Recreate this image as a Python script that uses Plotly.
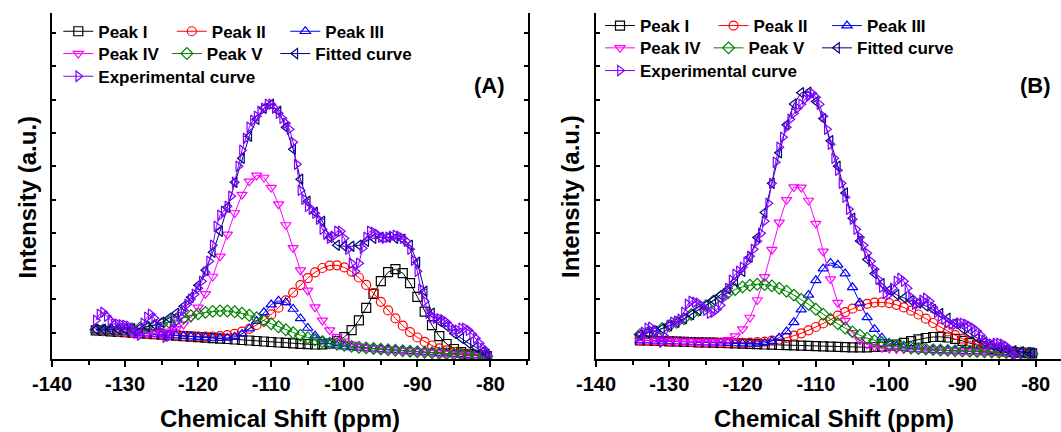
import plotly.graph_objects as go

# ---------------- data ----------------
series_names = ["Peak I", "Peak II", "Peak III", "Peak IV", "Peak V",
                "Fitted curve", "Experimental curve"]

x_major_ticks = [-140, -130, -120, -110, -100, -90, -80]
x_tick_labels = ["-140", "-130", "-120", "-110", "-100", "-90", "-80"]
x_minor_ticks = [-135, -125, -115, -105, -95, -85, -75]

# chemical shift grid of the fitted components (ppm)
shift_fit = [-134, -133, -132, -131, -130, -129, -128, -127, -126, -125,
             -124, -123, -122, -121, -120, -119, -118, -117, -116, -115,
             -114, -113, -112, -111, -110, -109, -108, -107, -106, -105,
             -104, -103, -102, -101, -100, -99, -98, -97, -96, -95,
             -94, -93, -92, -91, -90, -89, -88, -87, -86, -85,
             -84, -83, -82, -81, -80.5]

shift_exp_a = [-134.0, -133.5, -133.0, -132.5, -132.0, -131.5, -131.0, -130.5, -130.0, -129.5,
               -129.0, -128.5, -128.0, -127.5, -127.0, -126.5, -126.0, -125.5, -125.0, -124.5,
               -124.0, -123.5, -123.0, -122.5, -122.0, -121.5, -121.0, -120.5, -120.0, -119.5,
               -119.0, -118.5, -118.0, -117.5, -117.0, -116.5, -116.0, -115.5, -115.0, -114.5,
               -114.0, -113.5, -113.0, -112.5, -112.0, -111.5, -111.0, -110.5, -110.0, -109.5,
               -109.0, -108.5, -108.0, -107.5, -107.0, -106.5, -106.0, -105.5, -105.0, -104.5,
               -104.0, -103.5, -103.0, -102.5, -102.0, -101.5, -101.0, -100.5, -100.0, -99.5,
               -99.0, -98.5, -98.0, -97.5, -97.0, -96.5, -96.0, -95.5, -95.0, -94.5,
               -94.0, -93.5, -93.0, -92.5, -92.0, -91.5, -91.0, -90.5, -90.0, -89.5,
               -89.0, -88.5, -88.0, -87.5, -87.0, -86.5, -86.0, -85.5, -85.0, -84.5,
               -84.0, -83.5, -83.0, -82.5, -82.0, -81.5, -81.0, -80.5]

shift_exp_b = [-134.0, -133.5, -133.0, -132.5, -132.0, -131.5, -131.0, -130.5, -130.0, -129.5,
               -129.0, -128.5, -128.0, -127.5, -127.0, -126.5, -126.0, -125.5, -125.0, -124.5,
               -124.0, -123.5, -123.0, -122.5, -122.0, -121.5, -121.0, -120.5, -120.0, -119.5,
               -119.0, -118.5, -118.0, -117.5, -117.0, -116.5, -116.0, -115.5, -115.0, -114.5,
               -114.0, -113.5, -113.0, -112.5, -112.0, -111.5, -111.0, -110.5, -110.0, -109.5,
               -109.0, -108.5, -108.0, -107.5, -107.0, -106.5, -106.0, -105.5, -105.0, -104.5,
               -104.0, -103.5, -103.0, -102.5, -102.0, -101.5, -101.0, -100.5, -100.0, -99.5,
               -99.0, -98.5, -98.0, -97.5, -97.0, -96.5, -96.0, -95.5, -95.0, -94.5,
               -94.0, -93.5, -93.0, -92.5, -92.0, -91.5, -91.0, -90.5, -90.0, -89.5,
               -89.0, -88.5, -88.0, -87.5, -87.0, -86.5, -86.0, -85.5, -85.0, -84.5,
               -84.0, -83.5, -83.0, -82.5]

# ---- panel (A) intensities (a.u.) ----
a_peak1 = [29.0, 28.5, 28.0, 27.5, 27.1, 26.6, 26.1, 25.6, 25.1, 24.6,
           24.1, 23.7, 23.2, 22.7, 22.2, 21.7, 21.2, 20.7, 20.3, 19.8,
           19.3, 18.8, 18.3, 17.8, 17.3, 16.8, 16.4, 15.9, 15.4, 15.1,
           14.8, 15.0, 15.8, 18.1, 22.2, 29.1, 39.0, 51.5, 65.4, 78.1,
           87.1, 90.1, 86.2, 76.2, 62.5, 47.6, 34.1, 23.2, 15.3, 10.3,
           7.1, 5.3, 4.1, 3.4, 3.1]
a_peak2 = [29.0, 28.5, 28.0, 27.5, 27.1, 26.6, 26.1, 25.6, 25.1, 24.6,
           24.1, 23.8, 23.4, 23.1, 22.8, 22.7, 22.8, 23.2, 24.2, 25.5,
           27.6, 30.5, 34.3, 39.1, 44.9, 51.6, 59.0, 66.7, 74.2, 81.2,
           87.0, 91.3, 93.7, 94.0, 91.9, 87.7, 81.8, 74.4, 66.1, 57.5,
           48.9, 40.9, 33.6, 27.2, 21.8, 17.4, 13.8, 11.0, 8.9, 7.3,
           6.0, 5.0, 4.2, 3.5, 3.2]
a_peak3 = [29.0, 28.5, 28.0, 27.5, 27.1, 26.6, 26.1, 25.6, 25.1, 24.6,
           24.1, 23.7, 23.2, 22.7, 22.2, 21.7, 21.3, 21.1, 21.4, 22.6,
           25.4, 30.6, 38.2, 47.0, 54.7, 58.5, 57.0, 50.3, 40.9, 31.3,
           23.6, 18.4, 15.3, 13.7, 12.7, 12.0, 11.5, 11.0, 10.5, 10.0,
           9.5, 9.1, 8.6, 8.1, 7.6, 7.1, 6.6, 6.1, 5.6, 5.2,
           4.7, 4.2, 3.7, 3.2, 3.0]
a_peak4 = [29.0, 28.5, 28.0, 27.5, 27.1, 26.6, 26.3, 26.1, 26.1, 26.6,
           27.9, 30.5, 34.9, 41.8, 51.9, 65.5, 82.8, 103.0, 124.9, 146.3,
           164.7, 178.0, 183.9, 181.8, 171.7, 155.1, 134.3, 111.5, 89.1, 68.9,
           52.1, 38.9, 29.2, 22.5, 17.9, 14.9, 13.0, 11.7, 10.8, 10.1,
           9.5, 9.1, 8.6, 8.1, 7.6, 7.1, 6.6, 6.1, 5.6, 5.2,
           4.7, 4.2, 3.7, 3.2, 3.0]
a_peak5 = [29.6, 29.4, 29.4, 29.5, 29.9, 30.4, 31.2, 32.3, 33.7, 35.3,
           37.2, 39.4, 41.5, 43.5, 45.4, 46.9, 47.9, 48.4, 48.3, 47.5,
           46.0, 44.0, 41.5, 38.6, 35.6, 32.5, 29.5, 26.6, 24.0, 21.6,
           19.5, 17.7, 16.2, 15.0, 13.9, 12.9, 12.1, 11.4, 10.8, 10.2,
           9.5, 9.1, 8.6, 8.1, 7.6, 7.1, 6.6, 6.1, 5.6, 5.2,
           4.7, 4.2, 3.7, 3.2, 3.0]
a_fitted = [30, 30, 30, 30, 30, 30.5, 31, 32.5, 34.5, 37,
            41, 46, 53, 62, 74, 89, 107, 128, 152, 177,
            201, 223, 240, 251, 255, 248, 232, 210, 180, 158,
            147, 138, 122, 114, 113, 113, 114, 118, 121, 122,
            122, 121, 120, 114, 97, 68, 46, 38, 33, 26,
            21, 16, 12, 8, 5]
a_experimental = [39, 45, 47, 43, 39, 35.5, 35, 34.5, 34, 33,
                  31, 26, 24, 36, 42, 45, 41, 34, 27, 22,
                  23, 30, 38, 43, 49, 55, 60, 65, 71, 78,
                  87, 98, 114, 133, 144, 148, 153, 163, 177, 193,
                  209, 221, 232, 239, 243, 248, 251, 255, 255, 251,
                  246, 241, 236, 230, 217, 195, 169, 160, 153, 150,
                  146, 140, 130, 125, 121, 123, 128, 128, 121, 110,
                  96, 88, 96, 111, 122, 128, 127, 125, 122, 121,
                  122, 123, 124, 123, 121, 118, 110, 99, 88, 70,
                  58, 46, 42, 41, 40.5, 39.5, 37, 33, 29, 29,
                  31, 31, 29, 25, 21, 16, 11, 6]

# ---- panel (B) intensities (a.u.) ----
b_peak1 = [19.0, 18.8, 18.5, 18.3, 18.0, 17.8, 17.5, 17.3, 17.0, 16.8,
           16.6, 16.3, 16.1, 15.8, 15.6, 15.3, 15.1, 14.8, 14.6, 14.3,
           14.1, 13.9, 13.6, 13.4, 13.1, 12.9, 12.6, 12.4, 12.1, 12.0,
           12.0, 12.0, 12.3, 12.7, 13.6, 14.8, 16.4, 18.1, 19.9, 21.3,
           22.3, 22.5, 21.8, 20.4, 18.4, 16.2, 13.9, 11.9, 10.2, 8.8,
           7.9, 7.1, 6.6, 6.2, 6.0]
b_peak2 = [19.0, 18.8, 18.5, 18.3, 18.0, 17.8, 17.5, 17.3, 17.0, 16.9,
           16.8, 16.6, 16.5, 16.4, 16.5, 16.7, 17.1, 17.7, 18.6, 19.8,
           21.5, 23.6, 26.0, 29.0, 32.3, 35.9, 39.7, 43.6, 47.2, 50.6,
           53.4, 55.5, 56.7, 56.9, 56.2, 54.5, 51.9, 48.6, 44.8, 40.6,
           36.3, 32.0, 27.9, 24.1, 20.6, 17.7, 15.1, 13.0, 11.3, 9.9,
           8.8, 7.9, 7.2, 6.6, 6.4]
b_peak3 = [19.0, 18.8, 18.5, 18.3, 18.0, 17.8, 17.5, 17.3, 17.0, 16.8,
           16.6, 16.3, 16.1, 15.8, 15.6, 15.5, 15.7, 16.4, 18.2, 21.6,
           27.7, 37.0, 49.6, 64.4, 79.0, 90.6, 96.3, 94.5, 85.7, 72.0,
           56.5, 41.9, 30.1, 21.6, 16.2, 13.0, 11.3, 10.3, 9.8, 9.4,
           9.2, 9.0, 8.7, 8.5, 8.2, 8.0, 7.7, 7.5, 7.3, 7.0,
           6.8, 6.5, 6.3, 6.0, 5.9]
b_peak4 = [19.0, 18.8, 18.5, 18.3, 18.0, 17.8, 17.5, 17.3, 17.0, 17.0,
           17.2, 17.8, 19.5, 23.2, 30.2, 41.8, 59.3, 82.4, 109.6, 136.9,
           159.5, 172.2, 171.9, 158.8, 135.7, 107.9, 80.2, 56.6, 38.6, 26.5,
           19.1, 14.8, 12.7, 11.5, 10.9, 10.4, 10.2, 9.9, 9.7, 9.4,
           9.2, 9.0, 8.7, 8.5, 8.2, 8.0, 7.7, 7.5, 7.3, 7.0,
           6.8, 6.5, 6.3, 6.0, 5.9]
b_peak5 = [24.7, 26.3, 28.2, 30.7, 33.5, 36.9, 40.6, 44.8, 49.1, 53.7,
           58.2, 62.5, 66.4, 69.8, 72.4, 74.1, 75.0, 74.7, 73.4, 71.1,
           68.1, 64.2, 59.8, 55.0, 50.0, 45.0, 40.1, 35.5, 31.2, 27.4,
           24.1, 21.1, 18.7, 16.6, 14.9, 13.5, 12.4, 11.5, 10.8, 10.2,
           9.7, 9.3, 8.9, 8.6, 8.2, 8.0, 7.7, 7.5, 7.3, 7.0,
           6.8, 6.5, 6.3, 6.0, 5.9]
b_fitted = [24.7, 26.3, 28.2, 30.7, 33.5, 36.9, 40.6, 44.8, 49.1, 54.0,
            59.0, 64.3, 70.2, 77.8, 87.9, 102.2, 121.8, 146.8, 176.0, 206.5,
            234.5, 255.3, 266.5, 267.0, 257.7, 240.7, 218.5, 193.0, 166.4, 141.0,
            118.3, 99.7, 85.7, 75.7, 69.0, 64.6, 61.4, 58.8, 56.3, 53.3,
            49.9, 45.8, 41.2, 36.1, 30.8, 25.9, 21.3, 17.4, 14.2, 11.7,
            9.9, 8.5, 7.5, 6.8, 6.4]
b_experimental = [23, 27, 31, 32, 28, 23, 17, 22, 34, 37,
                  38, 40, 47, 55, 58, 57, 56, 53, 49, 46,
                  47, 50, 54, 62, 71, 79, 85, 88, 92, 97,
                  103, 110, 118, 126, 138, 156, 176, 197, 212, 222,
                  232, 240, 246, 251, 255, 260, 264, 266, 262, 255,
                  243, 230, 215, 201, 189, 176, 162, 150, 140, 130,
                  122, 114, 106, 98, 90, 80, 72, 66, 65, 71,
                  78, 81, 78, 71, 62, 55, 56, 59, 61, 58,
                  52, 47, 43, 40, 37, 35, 35, 36, 36, 35,
                  33, 31, 28, 24, 19, 16, 15, 16, 16, 15,
                  13, 9, 5, 2]

# ---------------- styles ----------------
FONT = "Liberation Sans, Arial, sans-serif"
colors = ["#000000", "#FF0000", "#0000FF", "#FF00FF", "#008000", "#000080", "#8000FF"]
symbols = ["square-open", "circle-open", "triangle-up-open", "triangle-down-open",
           "diamond-open", "triangle-left-open", "triangle-right-open"]

W, H = 1061, 432
dom_a = [52 / W, 527.7 / W]
dom_b = [596 / W, 1.0]
dom_y = [(H - 359.3) / H, (H - 12.7) / H]

fig = go.Figure()

panels = [
    ("x", "y", [a_peak1, a_peak2, a_peak3, a_peak4, a_peak5, a_fitted], a_experimental,
     shift_exp_a, ["legend", "legend2", "legend3"]),
    ("x2", "y2", [b_peak1, b_peak2, b_peak3, b_peak4, b_peak5, b_fitted], b_experimental,
     shift_exp_b, ["legend4", "legend5", "legend6"]),
]
row_of = [0, 0, 0, 1, 1, 1, 2]
last_in_row = [False, False, True, False, False, True, True]

for xa, ya, comps, expv, expx, legs in panels:
    all_series = comps + [expv]
    for i, ys in enumerate(all_series):
        xs = expx if i == 6 else shift_fit
        extra = dict(legendwidth=190) if last_in_row[i] else {}
        fig.add_trace(go.Scatter(
            x=xs, y=ys, name=series_names[i], mode="lines+markers",
            line=dict(color=colors[i], width=1),
            marker=dict(symbol=symbols[i], size=9, color=colors[i],
                        line=dict(width=1.2, color=colors[i])),
            xaxis=xa, yaxis=ya, legend=legs[row_of[i]], hoverinfo="skip", **extra))

tickfont = dict(family=FONT, size=20, color="black", weight="bold")


def xaxis_bottom(domain, rng, anchor):
    return dict(domain=domain, range=rng, anchor=anchor, automargin=False,
                tickmode="array", tickvals=x_major_ticks, ticktext=x_tick_labels,
                ticks="outside", ticklen=6, tickwidth=1.5, tickcolor="black",
                minor=dict(tickmode="array", tickvals=x_minor_ticks, ticks="outside",
                           ticklen=4, tickwidth=1.5, tickcolor="black"),
                showline=True, linewidth=2, linecolor="black",
                showgrid=False, zeroline=False, tickfont=tickfont)


def xaxis_top(over, rng, anchor):
    return dict(overlaying=over, side="top", range=rng, anchor=anchor, automargin=False,
                tickmode="array", tickvals=x_major_ticks + x_minor_ticks,
                ticks="inside", ticklen=4, tickwidth=1.5, tickcolor="black",
                showticklabels=False, showline=True, linewidth=2, linecolor="black",
                showgrid=False, zeroline=False)


def yaxis(anchor, mirror):
    return dict(domain=dom_y, range=[0, 346.6], anchor=anchor, automargin=False,
                tickmode="linear", tick0=26.6, dtick=33.3,
                ticks="inside", ticklen=4, tickwidth=1.5, tickcolor="black",
                showticklabels=False, showline=True, linewidth=2, linecolor="black",
                mirror=mirror, showgrid=False, zeroline=False)


range_a = [-140, -74.9]
range_b = [-140, -76.55]

legfont = dict(family=FONT, size=17, color="black", weight="bold")


def legend(xpx, ypx, ew):
    return dict(orientation="h", x=xpx / W, y=(H - ypx) / H, xanchor="left",
                yanchor="middle", entrywidth=ew, entrywidthmode="pixels",
                bgcolor="rgba(0,0,0,0)", borderwidth=0, font=legfont,
                itemsizing="trace", itemwidth=30, traceorder="normal")


ann_font_big = dict(family=FONT, size=24, color="black", weight="bold")
ann_font_panel = dict(family=FONT, size=22, color="black", weight="bold")
annotations = [
    dict(text="(A)", x=489 / W, y=(H - 85) / H, font=ann_font_panel),
    dict(text="(B)", x=1035 / W, y=(H - 85) / H, font=ann_font_panel),
    dict(text="Chemical Shift (ppm)", x=280 / W, y=(H - 418) / H, font=ann_font_big),
    dict(text="Chemical Shift (ppm)", x=834 / W, y=(H - 418) / H, font=ann_font_big),
    dict(text="Intensity (a.u.)", x=26.6 / W, y=(H - 197) / H, textangle=-90, font=ann_font_big),
    dict(text="Intensity (a.u.)", x=570 / W, y=(H - 197) / H, textangle=-90, font=ann_font_big),
]
for a in annotations:
    a.update(xref="paper", yref="paper", showarrow=False, xanchor="center", yanchor="middle")

fig.update_layout(
    width=W, height=H, autosize=False,
    margin=dict(l=0, r=0, t=0, b=0, pad=0, autoexpand=False),
    paper_bgcolor="white", plot_bgcolor="white",
    font=dict(family=FONT, color="black"),
    xaxis=xaxis_bottom(dom_a, range_a, "y"),
    xaxis2=xaxis_bottom(dom_b, range_b, "y2"),
    xaxis3=xaxis_top("x", range_a, "y"),
    xaxis4=xaxis_top("x2", range_b, "y2"),
    yaxis=yaxis("x", "ticks"),
    yaxis2=yaxis("x2", False),
    legend=legend(58.3, 31.7, 68.5),
    legend2=legend(58.3, 54.0, 63.5),
    legend3=legend(58.3, 76.7, 120),
    legend4=legend(600, 26.0, 68.5),
    legend5=legend(600, 48.3, 63.5),
    legend6=legend(600, 71.0, 120),
    annotations=annotations,
    showlegend=True,
)

fig.write_html("out.html", config={"displayModeBar": False},
               post_script="document.body.style.margin='0';document.body.style.overflow='hidden';")
